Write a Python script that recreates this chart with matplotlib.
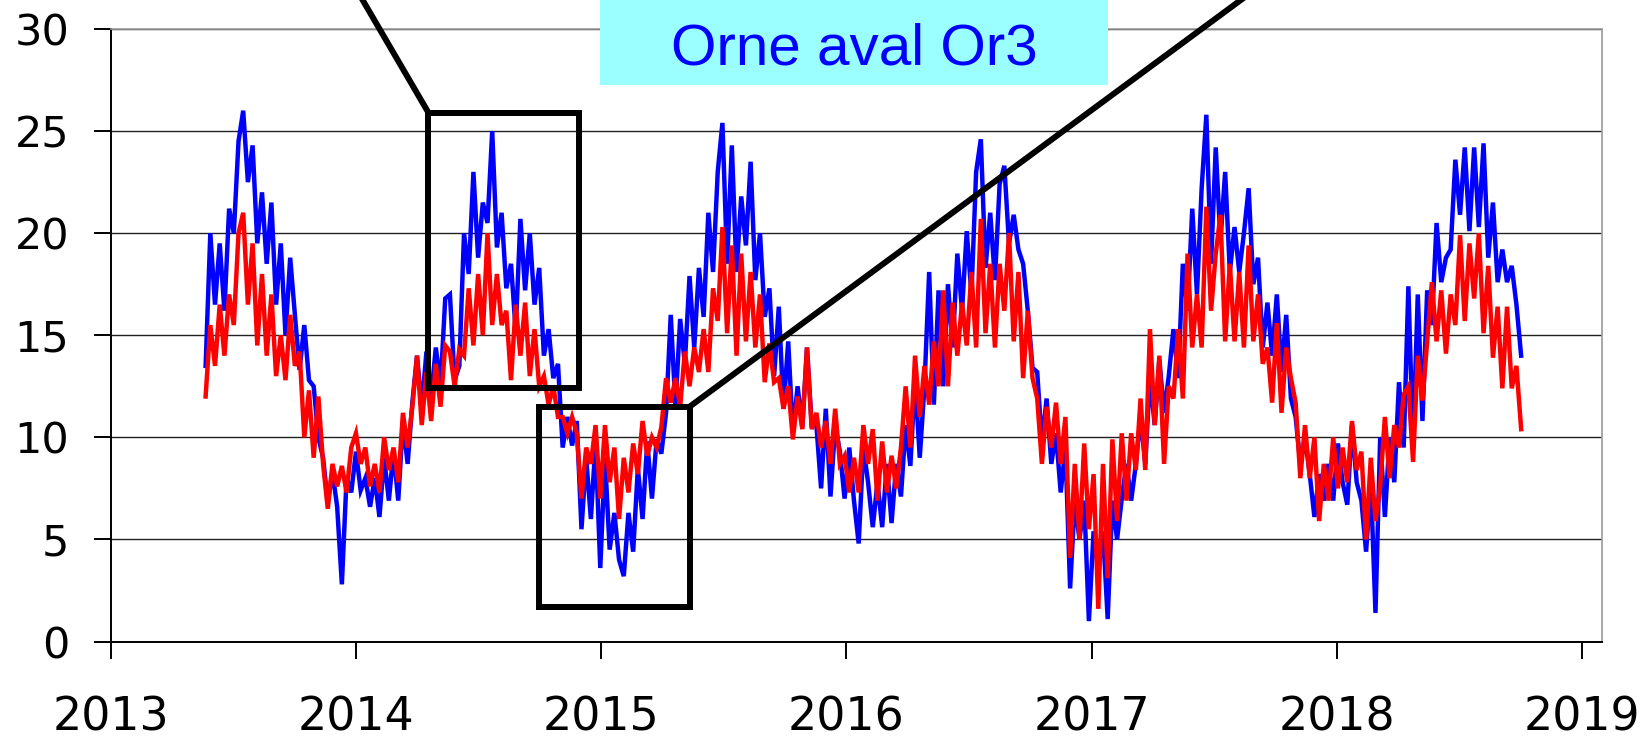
import matplotlib
matplotlib.use("Agg")

import matplotlib.dates as mdates
import matplotlib.pyplot as plt
import pandas as pd
from matplotlib.patches import ConnectionPatch, Rectangle


# --- Data: weekly water temperature (degC), Orne aval Or3 ---
# One value per week from 2013-05-22, split into yearly chunks (late May -> late May)

blue_2013 = [13.5, 20.0, 16.5, 19.5, 16.2, 21.2, 20.0, 24.5, 26.0, 22.5, 24.3, 19.5, 22.0,
             18.5, 21.5, 16.5, 19.5, 15.0, 18.8, 16.0, 13.3, 15.5, 12.8, 12.5, 10.0, 9.0,
             6.8, 8.3, 6.6, 2.8, 8.0, 7.3, 9.3, 7.4, 8.0, 6.6, 8.0, 6.1, 9.0, 6.9,
             9.3, 6.9, 10.8, 8.7, 11.7, 14.0, 11.4, 14.2, 12.0, 14.4, 12.5, 16.8]
blue_2014 = [17.0, 12.8, 13.5, 20.0, 18.0, 23.0, 18.8, 21.5, 20.5, 25.0, 19.3, 21.0, 17.3,
             18.5, 15.2, 20.7, 17.2, 20.0, 16.5, 18.3, 14.0, 15.3, 12.9, 13.6, 9.5, 11.0,
             9.6, 10.8, 5.5, 9.0, 6.0, 9.8, 3.6, 9.0, 4.5, 6.3, 4.0, 3.2, 6.3, 4.4,
             8.5, 6.0, 9.8, 7.0, 9.9, 9.2, 11.2, 16.0, 11.5, 15.8, 13.6, 17.9]
blue_2015 = [14.4, 18.3, 15.9, 21.0, 18.1, 23.0, 25.4, 18.5, 24.3, 18.1, 21.8, 19.4, 23.5,
             17.7, 20.0, 15.9, 17.3, 13.0, 16.4, 11.4, 14.7, 10.2, 12.5, 10.5, 14.4, 10.6,
             10.6, 7.5, 11.4, 7.1, 10.6, 9.3, 7.0, 9.5, 6.9, 4.8, 9.5, 7.8, 5.6, 7.8,
             5.6, 8.7, 5.8, 8.7, 7.1, 10.6, 8.6, 12.9, 9.0, 12.5, 18.1, 11.6]
blue_2016 = [17.2, 12.5, 17.5, 14.4, 19.0, 16.2, 20.1, 17.0, 23.0, 24.6, 18.3, 21.0, 17.7,
             22.4, 23.3, 19.5, 20.9, 19.2, 18.5, 16.2, 13.4, 13.2, 9.7, 11.9, 8.7, 10.2,
             7.3, 9.5, 2.6, 6.9, 5.0, 6.9, 1.0, 5.4, 3.5, 5.4, 1.1, 6.9, 5.0, 7.0,
             8.7, 6.9, 8.7, 11.0, 8.7, 13.0, 10.6, 13.8, 11.2, 13.0, 15.3, 12.9]
blue_2017 = [18.5, 16.2, 21.2, 17.0, 22.2, 25.8, 18.5, 24.2, 19.6, 23.0, 18.1, 20.3, 18.1,
             20.0, 22.2, 17.5, 18.8, 14.4, 16.6, 14.0, 17.0, 13.2, 16.0, 11.9, 11.0, 8.7,
             10.0, 8.2, 6.1, 8.2, 6.9, 8.7, 6.9, 9.7, 7.8, 6.7, 10.6, 7.8, 6.9, 4.4,
             7.8, 1.4, 10.0, 6.1, 10.0, 7.8, 12.7, 9.5, 17.4, 9.5, 17.0, 10.8]
blue_2018 = [17.2, 15.5, 20.5, 17.6, 18.8, 19.2, 23.6, 20.9, 24.2, 20.1, 24.2, 20.3, 24.4,
             18.8, 21.5, 17.6, 19.2, 17.6, 18.4, 16.5, 14.0]

red_2013 = [12.0, 15.5, 13.5, 16.5, 14.0, 17.0, 15.5, 20.0, 21.0, 16.5, 19.5, 14.5, 18.0,
            14.0, 17.0, 13.0, 15.0, 12.8, 16.0, 13.5, 14.2, 10.0, 12.3, 9.0, 12.0, 8.7,
            6.5, 8.7, 7.6, 8.6, 7.3, 9.5, 10.2, 8.7, 9.5, 7.6, 8.7, 7.3, 10.0, 8.4,
            9.5, 7.8, 11.2, 9.5, 11.5, 14.0, 10.6, 13.2, 10.8, 13.6, 11.5, 14.5]
red_2014 = [14.2, 12.5, 14.3, 14.0, 17.3, 14.5, 18.0, 15.0, 20.0, 15.5, 18.0, 15.5, 16.2,
            12.8, 16.5, 14.0, 16.6, 13.0, 15.3, 12.5, 13.0, 11.6, 12.5, 11.0, 11.0, 10.2,
            11.0, 10.2, 7.0, 9.5, 8.7, 10.6, 7.0, 10.6, 7.8, 9.5, 6.0, 9.0, 7.3, 9.7,
            8.2, 10.8, 9.1, 10.0, 9.5, 10.5, 12.9, 11.7, 12.9, 11.5, 14.2, 12.5]
red_2015 = [14.4, 13.2, 15.3, 13.2, 17.3, 15.7, 20.3, 15.1, 19.4, 14.0, 19.0, 14.7, 18.1,
            14.4, 17.0, 12.7, 14.6, 12.7, 12.9, 11.4, 12.5, 9.9, 12.0, 10.4, 14.4, 10.4,
            11.2, 9.5, 10.8, 8.7, 11.4, 8.7, 9.1, 7.3, 9.0, 7.3, 10.6, 8.7, 10.4, 6.9,
            9.8, 7.3, 9.1, 7.5, 9.5, 12.5, 9.5, 14.0, 11.0, 13.5, 11.6, 14.7]
red_2016 = [12.5, 17.2, 12.5, 16.6, 14.0, 16.6, 14.5, 18.1, 14.4, 20.7, 15.1, 18.5, 14.4,
            18.5, 16.2, 20.0, 14.7, 18.1, 12.9, 16.2, 12.9, 11.9, 8.7, 11.5, 9.5, 11.7,
            8.7, 11.0, 4.1, 8.7, 5.0, 9.7, 5.5, 8.2, 1.6, 8.7, 3.1, 9.9, 5.9, 10.2,
            6.9, 10.2, 8.4, 11.9, 8.4, 15.3, 10.6, 14.0, 8.7, 12.5, 11.9, 15.3]
red_2017 = [11.9, 19.0, 14.4, 17.0, 14.4, 21.3, 16.2, 19.0, 20.9, 14.7, 18.5, 14.7, 18.1,
            14.4, 19.4, 14.7, 17.0, 13.6, 14.4, 11.7, 15.6, 11.2, 14.4, 12.9, 11.7, 8.0,
            10.6, 8.0, 10.0, 5.9, 8.7, 6.9, 10.0, 7.5, 9.5, 7.8, 10.8, 8.4, 9.3, 5.0,
            9.0, 5.9, 7.6, 11.0, 8.0, 10.6, 9.5, 12.1, 12.5, 8.8, 14.0, 11.8]
red_2018 = [14.7, 17.6, 14.7, 17.2, 14.1, 17.0, 15.5, 19.9, 15.7, 19.5, 16.8, 20.0, 15.1,
            18.4, 13.9, 16.4, 12.4, 16.4, 12.4, 13.5, 10.4]

first_week = "2013-05-22"
temp_ticks = [0, 5, 10, 15, 20, 25, 30]

# zoom windows drawn on the chart: (start, end, temp low, temp high)
summer_box = ("2014-04-19", "2014-11-29", 12.4, 25.9)
winter_box = ("2014-09-30", "2015-05-13", 1.7, 11.5)

station = "Orne aval Or3"


# --- Figure ---

blue = blue_2013 + blue_2014 + blue_2015 + blue_2016 + blue_2017 + blue_2018
red = red_2013 + red_2014 + red_2015 + red_2016 + red_2017 + red_2018
dates = pd.date_range(first_week, periods=len(blue), freq="7D")

fig = plt.figure(figsize=(16.49, 7.40), dpi=100)
ax = fig.add_axes([0.0673, 0.1331, 0.9040, 0.8277])

ax.plot(dates, blue, color="#0000ff", linewidth=3.2, solid_joinstyle="miter", zorder=3)
ax.plot(dates, red, color="#ff0000", linewidth=3.2, solid_joinstyle="miter", zorder=3)

ax.set_xlim(pd.Timestamp("2013-01-01"), pd.Timestamp("2019-01-31"))
ax.set_ylim(0, 30)
ax.set_yticks(temp_ticks)
ax.xaxis.set_major_locator(mdates.YearLocator())
ax.xaxis.set_major_formatter(mdates.DateFormatter("%Y"))

ax.grid(True, axis="y", color="#222222", linewidth=1.0, zorder=1)
ax.set_axisbelow(True)
ax.tick_params(axis="y", length=12, width=1.4, pad=18, labelsize=31, direction="out")
ax.tick_params(axis="x", length=12, width=1.4, pad=27, labelsize=33, direction="out")
for lab in ax.get_xticklabels() + ax.get_yticklabels():
    lab.set_family("DejaVu Sans")

for side in ("left", "bottom"):
    ax.spines[side].set_color("black")
    ax.spines[side].set_linewidth(1.4)
for side in ("top", "right"):
    ax.spines[side].set_color("#9a9a9a")
    ax.spines[side].set_linewidth(1.2)


# --- Zoom boxes and their leader lines ---

def draw_box(ax, box):
    x0 = mdates.date2num(pd.Timestamp(box[0]))
    x1 = mdates.date2num(pd.Timestamp(box[1]))
    rect = Rectangle((x0, box[2]), x1 - x0, box[3] - box[2], fill=False,
                     edgecolor="black", linewidth=4.3, joinstyle="miter", zorder=5)
    ax.add_patch(rect)
    return x0, x1


sx0, sx1 = draw_box(ax, summer_box)
wx0, wx1 = draw_box(ax, winter_box)

# leaders run off the top edge towards the detail panels
for corner, end in [((sx0, summer_box[3]), (0.2068, 1.05)),
                    ((wx1, winter_box[3]), (0.7829, 1.05))]:
    con = ConnectionPatch(xyA=corner, coordsA=ax.transData, xyB=end, coordsB=fig.transFigure,
                          arrowstyle="-", color="black", linewidth=4.3, zorder=6)
    con.set_clip_on(False)
    fig.add_artist(con)


# --- Station label ---

fig.add_artist(Rectangle((0.3639, 0.8851), 0.3081, 0.2, transform=fig.transFigure,
                         facecolor="#9bffff", edgecolor="none", zorder=7))
fig.text(0.518, 0.9135, station, ha="center", va="baseline", color="#0000ff",
         fontsize=42, family="Liberation Sans", zorder=8)

fig.savefig("out.png", dpi=100)
